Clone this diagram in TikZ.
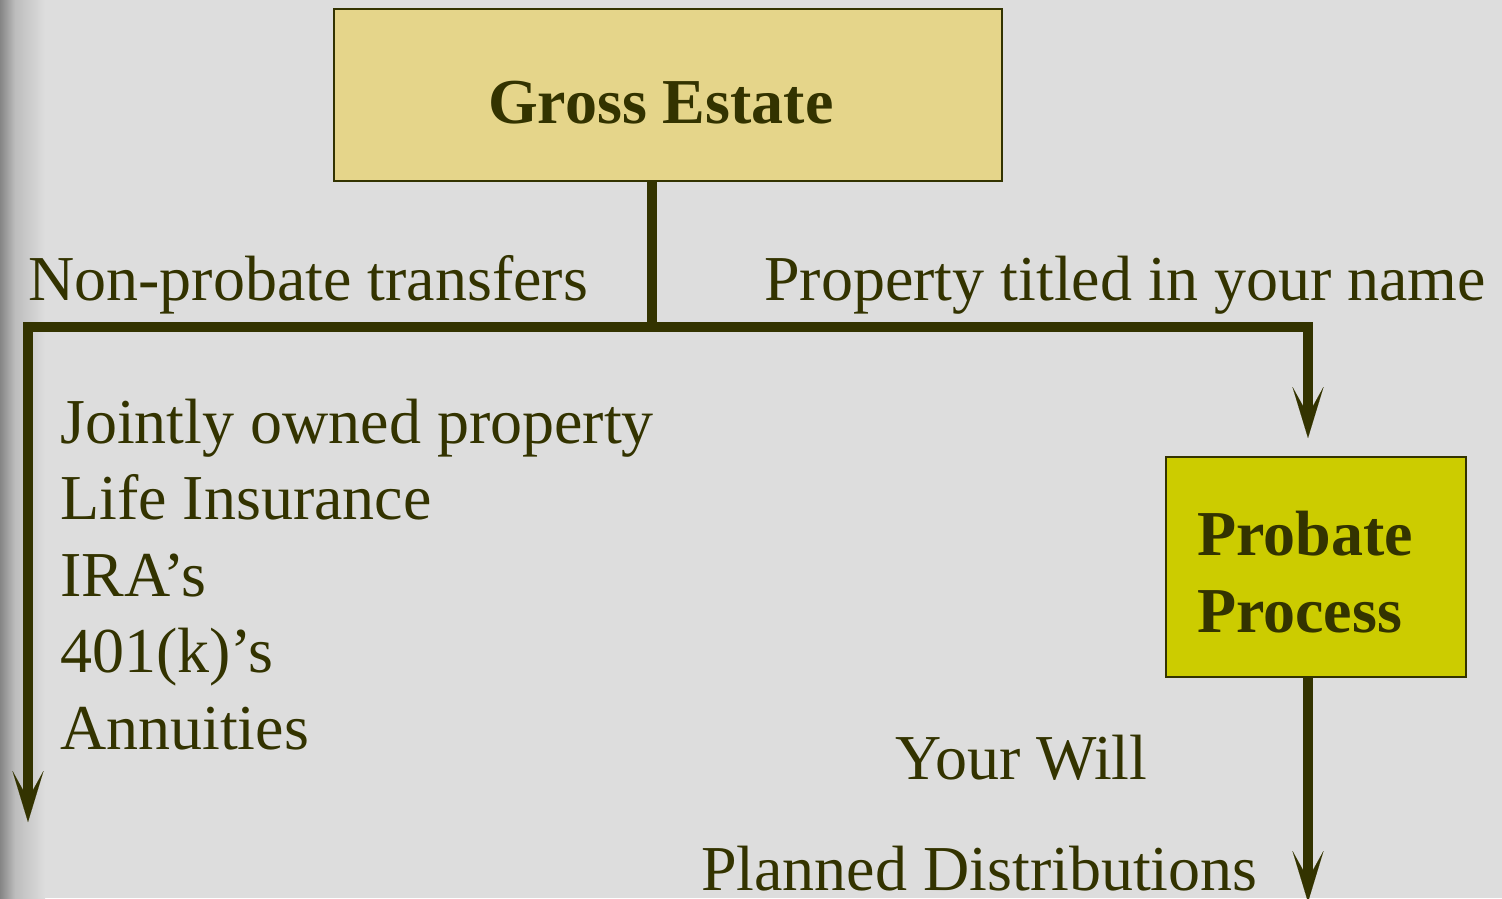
\documentclass[tikz,border=0pt]{standalone}
\usepackage{fontspec}
\setmainfont{Liberation Serif}
\usetikzlibrary{arrows.meta}
\definecolor{bg}{HTML}{DDDDDD}
\definecolor{ink}{HTML}{333300}
\definecolor{gefill}{HTML}{E5D58A}
\definecolor{ppfill}{HTML}{CCCC00}
\definecolor{edgeA}{HTML}{858585}
\definecolor{edgeB}{HTML}{BDBDBD}
\tikzset{
  conn/.style={draw=ink, line width=10.6pt, line join=miter},
  arr/.style={-{Stealth[length=51pt, width=31pt, inset=28pt, line width=0.01pt]}},
  boxA/.style={draw=ink, line width=2.5pt, fill=gefill, inner sep=0pt, minimum width=668pt, minimum height=172pt},
  boxB/.style={draw=ink, line width=2.5pt, fill=ppfill, inner sep=0pt, minimum width=300pt, minimum height=220pt},
  txt/.style={text=ink, inner sep=0pt, font=\fontsize{64}{76.5}\selectfont},
  btxt/.style={text=ink, inner sep=0pt, font=\fontsize{64}{77}\selectfont\bfseries},
}
\begin{document}
\begin{tikzpicture}[x=1pt, y=-1pt]
\useasboundingbox (0,0) rectangle (1502,898);
\fill[bg] (0,0) rectangle (1502,898);
\shade[left color=edgeA, right color=edgeB] (0,0) rectangle (15,898);
\shade[left color=edgeB, right color=bg] (15,0) rectangle (45,898);

\node[boxA] (ge) at (668,95) {};
\node[btxt, anchor=base west] (getext) at (488,123) {Gross Estate};

\node[boxB] (pp) at (1316,567) {};
\node[btxt, anchor=base west] (pp1) at (1197,555) {Probate};
\node[btxt, anchor=base west] (pp2) at (1197,632) {Process};

\coordinate (j) at (652,327);
\coordinate (lt) at (28,822);
\coordinate (rt) at (1308,438);
\coordinate (bt) at (1308,902);

\draw[conn] (ge.south -| j) -- ([yshift=-5.3pt]j);
\draw[conn, arr] (j) -| (lt);
\draw[conn, arr] (j) -| (rt);
\draw[conn, arr] (pp.south -| bt) -- (bt);

\node[txt, anchor=base west] (np) at (28,300) {Non-probate transfers};
\node[txt, anchor=base west] (pt) at (764,300) {Property titled in your name};

\node[txt, anchor=base west] (l1) at (60,443) {Jointly owned property};
\node[txt, anchor=base west] (l2) at (60,519) {Life Insurance};
\node[txt, anchor=base west] (l3) at (60,596) {IRA’s};
\node[txt, anchor=base west] (l4) at (60,672) {401(k)’s};
\node[txt, anchor=base west] (l5) at (60,749) {Annuities};

\node[txt, anchor=base west] (yw) at (895,779) {Your Will};
\node[txt, anchor=base west] (pd) at (701,890) {Planned Distributions};
\end{tikzpicture}
\end{document}
